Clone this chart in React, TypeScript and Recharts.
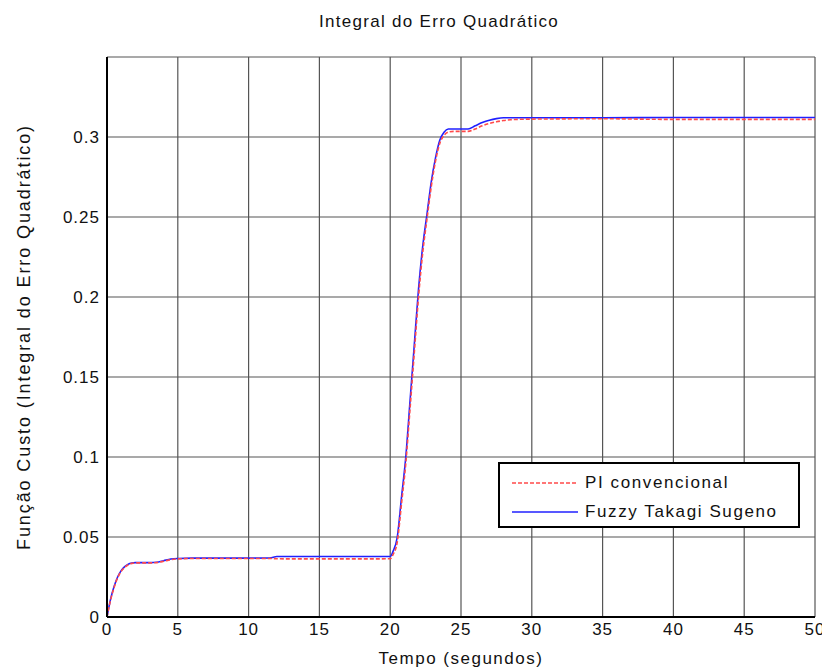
import React from "react";
import { LineChart, Line, XAxis, YAxis, CartesianGrid, Legend } from "recharts";

const time = [0, 0.25, 0.5, 0.75, 1, 1.25, 1.5, 1.75, 2, 3, 3.5, 4, 4.5, 5, 6, 8, 10, 11.5, 12, 14, 16, 18, 20, 20.2, 20.5, 20.8, 21.1, 21.4, 21.7, 22, 22.3, 22.6, 22.9, 23.2, 23.5, 23.8, 24.1, 24.5, 25, 25.5, 26, 26.5, 27, 27.5, 28, 28.5, 29, 30, 35, 40, 45, 50];

const fuzzy = [0, 0.011, 0.019, 0.025, 0.029, 0.0315, 0.033, 0.0337, 0.034, 0.034, 0.0342, 0.0352, 0.0362, 0.0366, 0.0368, 0.0368, 0.0368, 0.0369, 0.0378, 0.0378, 0.0378, 0.0378, 0.0378, 0.041, 0.05, 0.075, 0.1, 0.135, 0.17, 0.205, 0.232, 0.252, 0.272, 0.287, 0.298, 0.303, 0.305, 0.305, 0.305, 0.305, 0.307, 0.309, 0.3105, 0.3115, 0.312, 0.312, 0.312, 0.312, 0.312, 0.3122, 0.3122, 0.3122];

const pi = [0, 0.0105, 0.0185, 0.0245, 0.0285, 0.031, 0.0327, 0.0335, 0.0338, 0.0338, 0.034, 0.0348, 0.0358, 0.0363, 0.0366, 0.0366, 0.0366, 0.0366, 0.0364, 0.0363, 0.0363, 0.0363, 0.0364, 0.039, 0.047, 0.071, 0.096, 0.13, 0.165, 0.2, 0.228, 0.249, 0.269, 0.285, 0.296, 0.301, 0.303, 0.3035, 0.3035, 0.3035, 0.305, 0.307, 0.3085, 0.3095, 0.3103, 0.3108, 0.311, 0.3112, 0.3114, 0.311, 0.311, 0.311];

const xTicks = [0, 5, 10, 15, 20, 25, 30, 35, 40, 45, 50];
const yTicks = [0, 0.05, 0.1, 0.15, 0.2, 0.25, 0.3, 0.35];
const yTickLabels = ["0", "0.05", "0.1", "0.15", "0.2", "0.25", "0.3", ""];

const title = "Integral do Erro Quadrático";
const xLabel = "Tempo (segundos)";
const yLabel = "Função Custo (Integral do Erro Quadrático)";
const seriesNames = ["PI convencional", "Fuzzy Takagi Sugeno"];

const data = time.map((t, i) => ({ t, pi: pi[i], fuzzy: fuzzy[i] }));

const font = "'Liberation Sans', Arial, sans-serif";
const tickStyle = { fontSize: 17, fill: "#111", fontFamily: font, letterSpacing: 1 };

const LegendBox = (props: any) => {
  const payload = (props.payload || []).slice().sort((a: any, b: any) => (a.dataKey === "pi" ? -1 : 1));
  return (
    <div
      style={{
        width: 302,
        height: 66,
        boxSizing: "border-box",
        border: "2px solid #000",
        background: "#fff",
        fontFamily: font,
        fontSize: 17,
        letterSpacing: 1.6,
        color: "#111",
        paddingTop: 4,
      }}
    >
      {payload.map((p: any) => (
        <div key={p.dataKey} style={{ display: "flex", alignItems: "center", height: 29 }}>
          <svg width={85} height={10} style={{ flex: "none" }}>
            <line
              x1={12}
              x2={78}
              y1={5}
              y2={5}
              stroke={p.color}
              strokeWidth={1.6}
              strokeDasharray={p.dataKey === "pi" ? "4 2" : undefined}
            />
          </svg>
          <span>{p.value}</span>
        </div>
      ))}
    </div>
  );
};

export default function App() {
  return (
    <div style={{ position: "relative", width: 822, height: 660 }}>
      <div
        style={{
          position: "absolute",
          top: 4,
          left: 0,
          width: 862,
          textAlign: "center",
          fontFamily: font,
          fontSize: 17,
          color: "#111",
          letterSpacing: 1.3,
        }}
      >
        {title}
      </div>
      <LineChart
        width={822}
        height={660}
        data={data}
        margin={{ top: 49, right: 15, left: 0, bottom: 6 }}
      >
        <CartesianGrid stroke="#555" strokeWidth={1.2} />
        <XAxis
          dataKey="t"
          type="number"
          domain={[0, 50]}
          ticks={xTicks}
          tickLine={false}
          tickSize={0}
          tickMargin={6}
          axisLine={{ stroke: "#000", strokeWidth: 2 }}
          tick={tickStyle}
          height={45}
          interval={0}
          allowDataOverflow
          label={{ value: xLabel, position: "insideBottom", offset: -2, style: { fontSize: 17, fill: "#111", fontFamily: font, letterSpacing: 1.5 } }}
        />
        <XAxis xAxisId="top" orientation="top" type="number" domain={[0, 50]} height={0} tick={false} tickLine={false} axisLine={{ stroke: "#000", strokeWidth: 2 }} />
        <YAxis
          type="number"
          domain={[0, 0.35]}
          ticks={yTicks}
          tickFormatter={(v: number) => yTickLabels[yTicks.indexOf(v)] ?? ""}
          tickLine={false}
          tickSize={0}
          tickMargin={7}
          axisLine={{ stroke: "#000", strokeWidth: 2 }}
          tick={tickStyle}
          width={99}
          interval={0}
          allowDataOverflow
          label={{ value: yLabel, angle: -90, position: "insideLeft", offset: 16, style: { textAnchor: "middle", fontSize: 18, fill: "#111", fontFamily: font, letterSpacing: 1.9 } }}
        />
        <YAxis yAxisId="right" orientation="right" type="number" domain={[0, 0.35]} width={0} tick={false} tickLine={false} axisLine={{ stroke: "#000", strokeWidth: 2 }} />
        <Line
          type="monotone"
          dataKey="fuzzy"
          name={seriesNames[1]}
          stroke="#2020ff"
          strokeWidth={1.6}
          dot={false}
          isAnimationActive={false}
        />
        <Line
          type="monotone"
          dataKey="pi"
          name={seriesNames[0]}
          stroke="#ff4a4a"
          strokeWidth={1.6}
          strokeDasharray="4 2"
          dot={false}
          isAnimationActive={false}
        />
        <Legend
          layout="vertical"
          verticalAlign="middle"
          align="center"
          content={<LegendBox />}
          wrapperStyle={{ position: "absolute", left: 490, top: 454, width: 302, height: 66 }}
        />
      </LineChart>
    </div>
  );
}
